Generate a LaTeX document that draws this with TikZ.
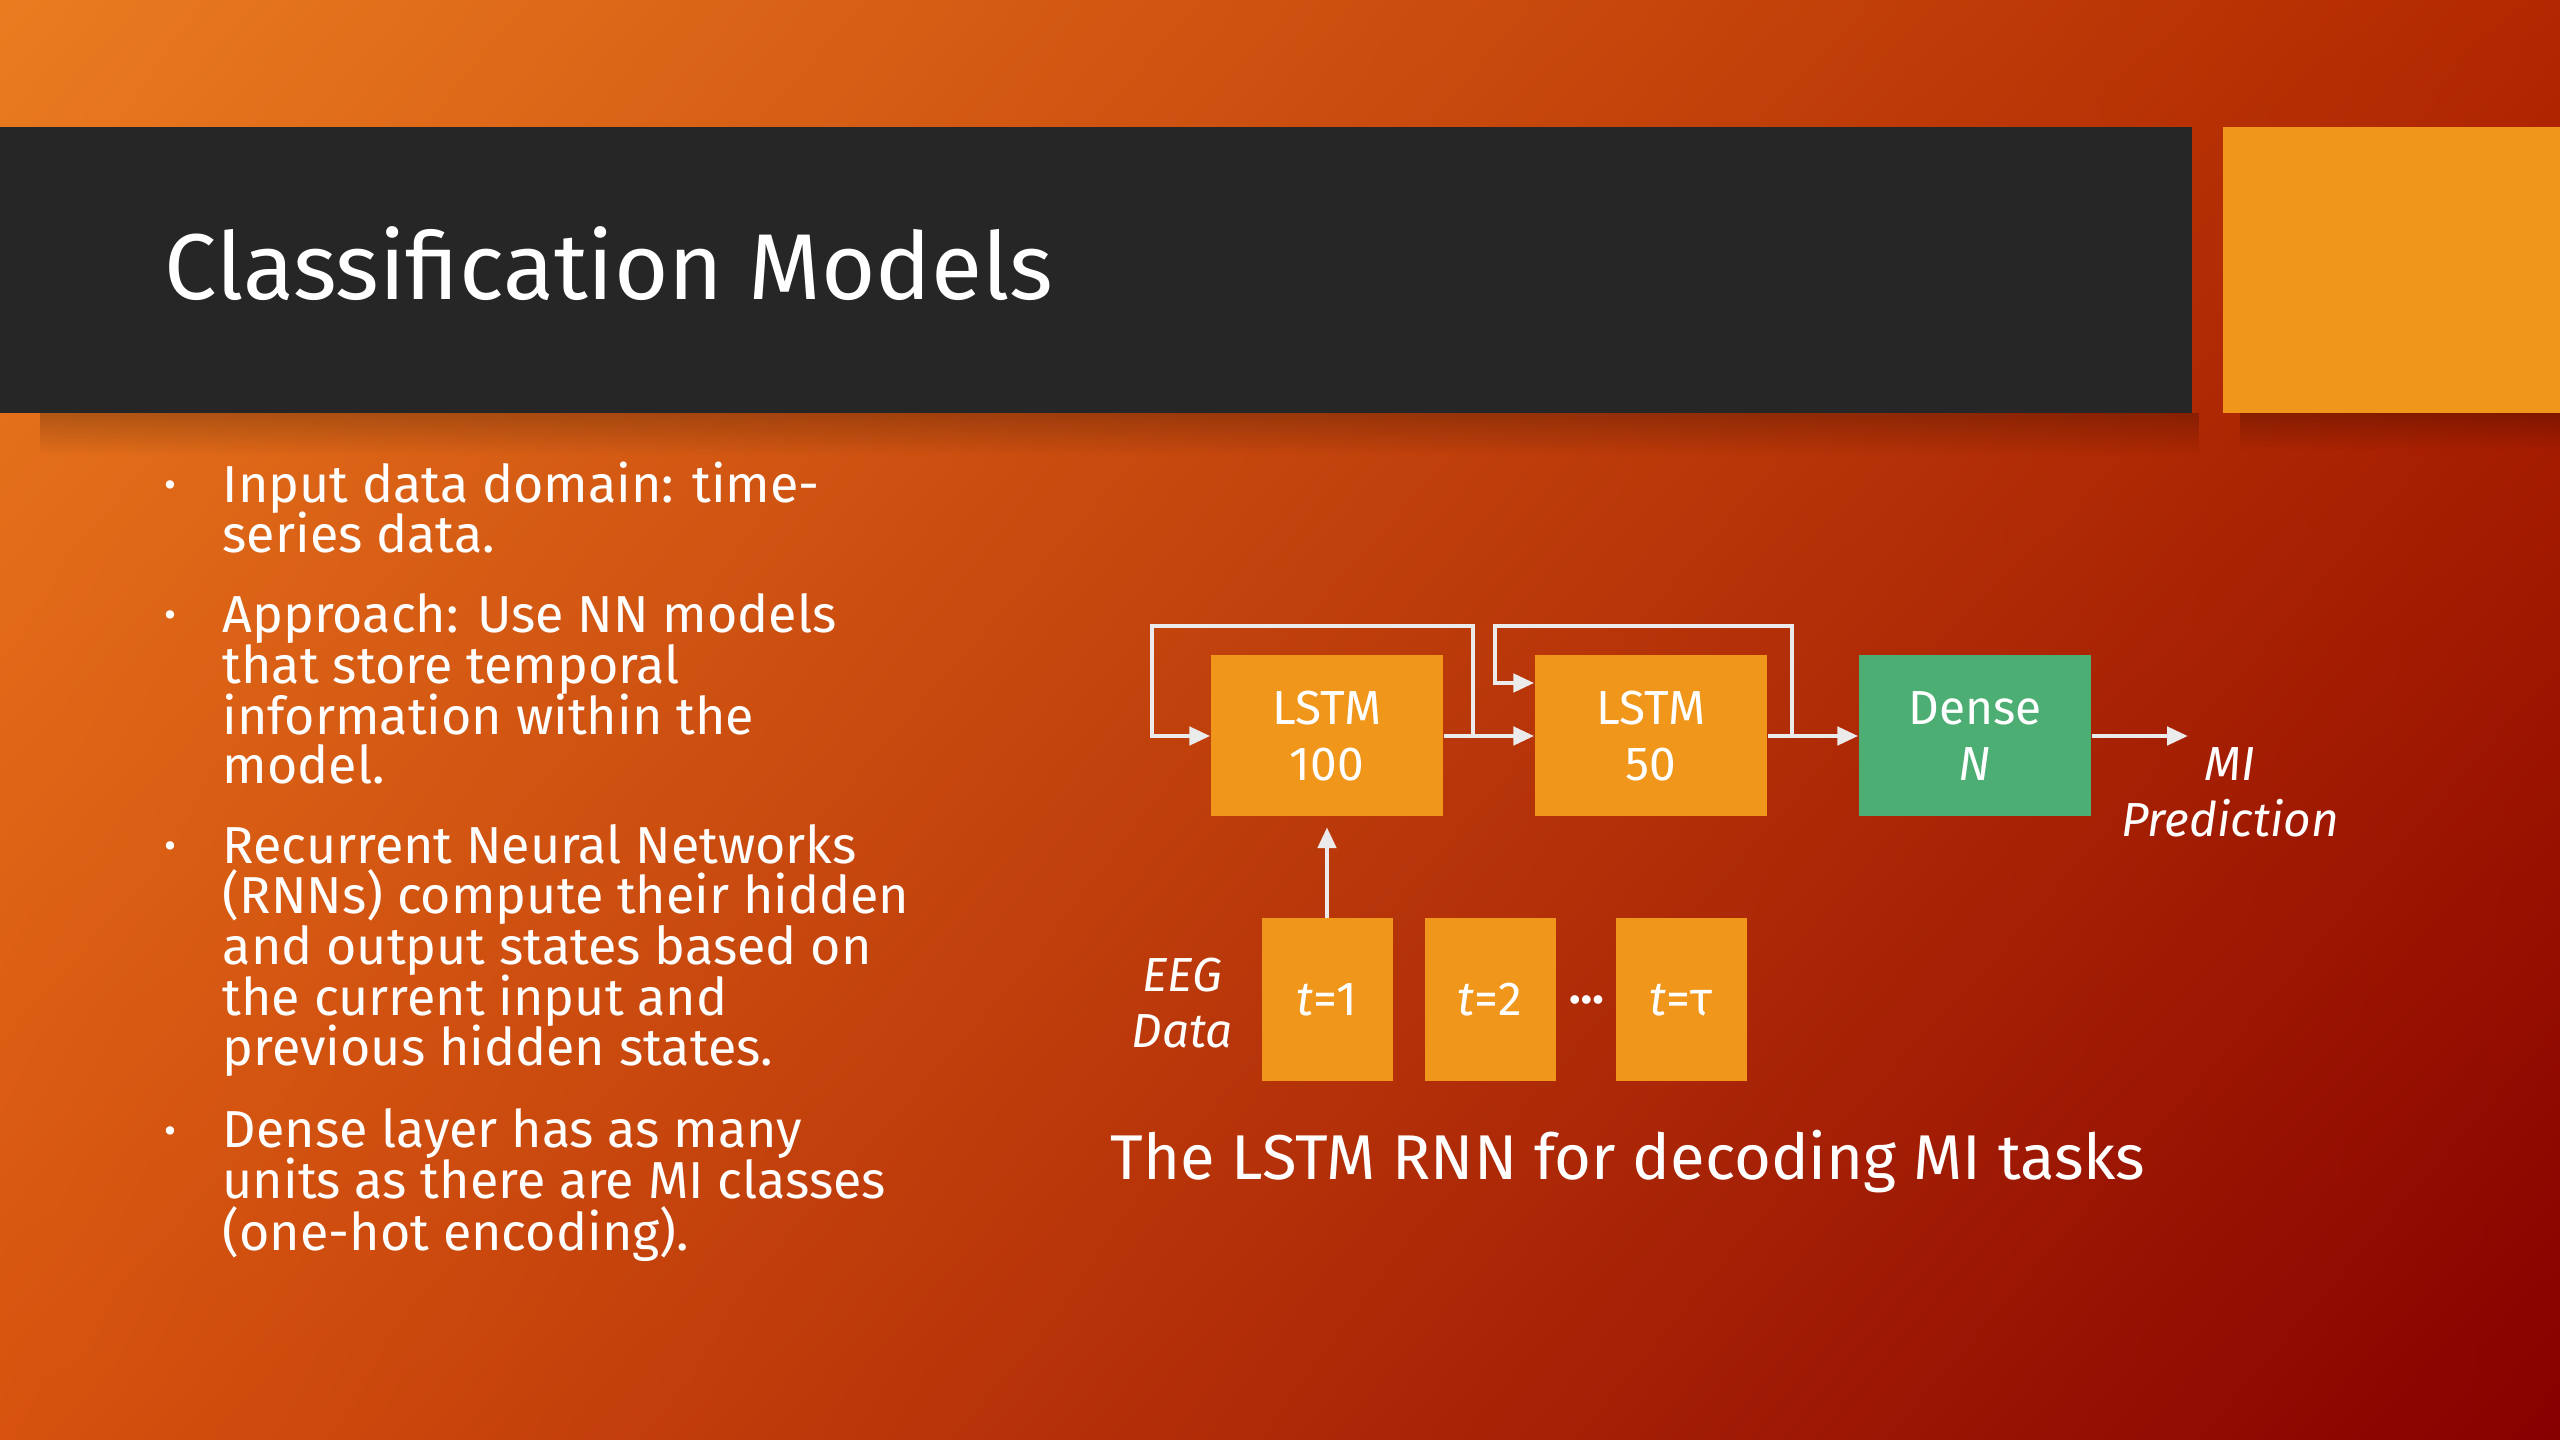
\documentclass[tikz,border=0pt]{standalone}
\usepackage{fontspec}
\setmainfont{Fira Sans}
\usetikzlibrary{arrows.meta,fadings,shadings}
\definecolor{bgTL}{RGB}{234,124,32}
\definecolor{bgTR}{RGB}{178,40,0}
\definecolor{bgBL}{RGB}{214,82,14}
\definecolor{bgBR}{RGB}{134,0,0}
\definecolor{band}{RGB}{38,38,38}
\definecolor{boxorange}{RGB}{240,150,26}
\definecolor{boxgreen}{RGB}{76,174,114}
\definecolor{linegray}{RGB}{235,235,235}
\newcommand\mybodyfont{\fontsize{14.8}{17}\selectfont}
\newcommand\myboxfont{\fontsize{13.6}{16}\selectfont}
\begin{document}
\begin{tikzpicture}[x=0.1mm,y=-0.1mm,
  bodytext/.style={anchor=base west, inner sep=0pt, text=white, font=\mybodyfont},
  bul/.style={anchor=base, inner sep=0pt, text=white, font=\fontsize{10.5}{12}\selectfont},
  layerbox/.style={fill=#1, minimum width=23.2mm, minimum height=16.1mm, inner sep=0pt,
    text=white, align=center, font=\myboxfont},
  tbox/.style={fill=boxorange, minimum width=13.1mm, minimum height=16.3mm, inner sep=0pt,
    text=white, align=center, font=\myboxfont},
  flow/.style={draw=linegray, line width=1.35pt, -{Triangle[length=2.1mm,width=1.8mm]}},
  lbl/.style={text=white, align=center, font=\myboxfont\itshape, inner sep=0pt}
]
\useasboundingbox (0,0) rectangle (2560,1440);
% background
\shade[upper left=bgTL, upper right=bgTR, lower left=bgBL, lower right=bgBR] (0,0) rectangle (2560,1440);
% shadows
\fill[black, fill opacity=0.22, path fading=south] (40,413) rectangle (2200,455);
\fill[black, fill opacity=0.22, path fading=south] (2240,413) rectangle (2560,450);
% title band and square
\fill[band] (0,127) rectangle (2192,413);
\fill[boxorange] (2223,127) rectangle (2560,413);
\node[anchor=base west, inner sep=0pt, text=white, font=\fontsize{26.6}{32}\selectfont] (title) at (164,300) {Classification Models};

% bullets
\foreach \y/\i in {503/1,633/2,864/3,1148/4}{
  \node[bul] (b\i) at (170,\y-5) {•};
}
\foreach \y/\t [count=\i] in {
  503/{Input data domain: time-},
  553/{series data.},
  633/{Approach: Use NN models},
  684/{that store temporal},
  735/{information within the},
  784/{model.},
  864/{Recurrent Neural Networks},
  914/{(RNNs) compute their hidden},
  965/{and output states based on},
  1016/{the current input and},
  1066/{previous hidden states.},
  1148/{Dense layer has as many},
  1198/{units as there are MI classes},
  1250/{(one-hot encoding).}}{
  \node[bodytext] (line\i) at (222,\y) {\t};
}

% diagram
\node[layerbox=boxorange] (lstm1) at (1327,736) {LSTM\\100};
\node[layerbox=boxorange] (lstm2) at (1651,736) {LSTM\\50};
\node[layerbox=boxgreen] (dense) at (1975,736) {Dense\\\textit{N}};
\node[tbox] (t1) at (1327,1000) {\textit{t}=1};
\node[tbox] (t2) at (1490,1000) {\textit{t}=2};
\node[tbox] (tn) at (1681,1000) {\textit{t}=τ};
\node[text=white, inner sep=0pt, font=\myboxfont\bfseries] (dots) at (1587,1000) {…};
\node[lbl] (eeg) at (1182,1003) {EEG\\Data};
\node[lbl] (mi) at (2230,792) {MI\\Prediction};

\coordinate (out) at (2188,736);
\coordinate (j1) at (1473,736);
\coordinate (l1) at (1152,626);
\coordinate (j2) at (1792,736);
\coordinate (l2) at (1495,626);
\coordinate (e2) at (1495,683);

\draw[flow] (lstm1.east) -- (lstm2.west);
\draw[flow] (lstm2.east) -- (dense.west);
\draw[flow] (dense.east) -- (out);
\draw[flow] (j1) -- (j1 |- l1) -- (l1) -- (l1 |- lstm1.west) -- (lstm1.west);
\draw[flow] (j2) -- (j2 |- l2) -- (l2) -- (e2) -- (lstm2.west |- e2);
\draw[flow, shorten >=1mm] (t1.north) -- (lstm1.south);

\node[anchor=base, inner sep=0pt, text=white, font=\fontsize{18}{22}\selectfont] (caption) at (1628,1179) {The LSTM RNN for decoding MI tasks};
\end{tikzpicture}
\end{document}
